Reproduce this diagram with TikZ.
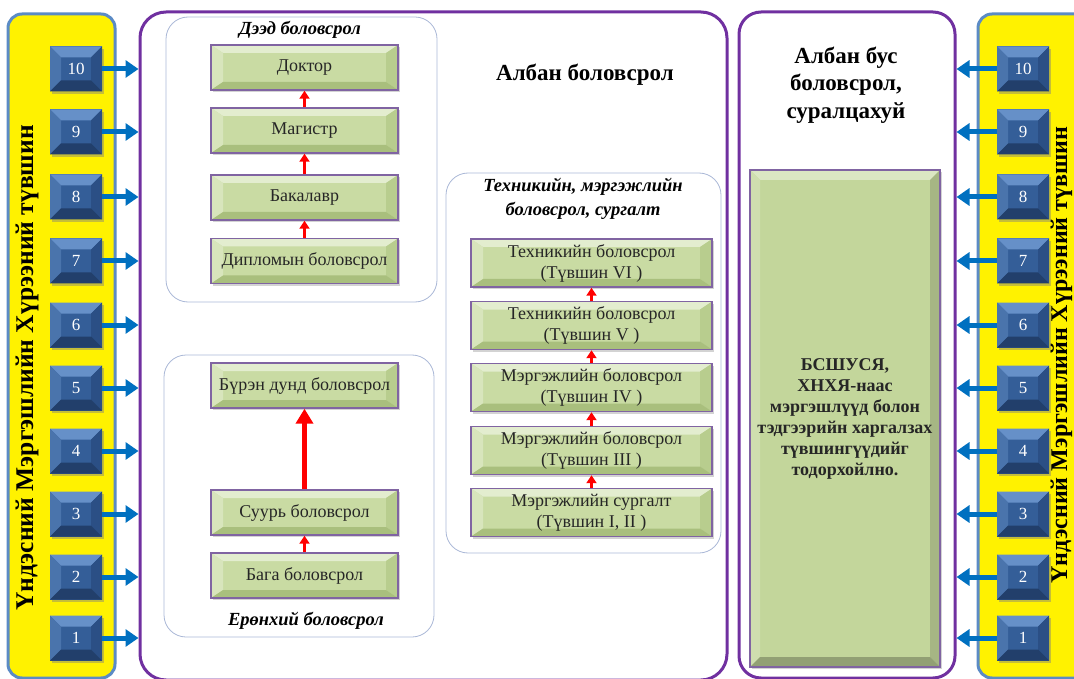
\documentclass[tikz,border=0pt]{standalone}
\usepackage{fontspec}
\setmainfont{Liberation Serif}
\usetikzlibrary{arrows.meta,shadows}
\definecolor{purp}{HTML}{7030A0}
\definecolor{boxpurp}{HTML}{8064A2}
\definecolor{panelblue}{HTML}{5B8BC5}
\definecolor{arrblue}{HTML}{0070C0}
\definecolor{subbord}{HTML}{A9B7D6}
\definecolor{gface}{HTML}{C9DBA3}
\definecolor{gtop}{HTML}{E3EDCF}
\definecolor{gleft}{HTML}{D8E5BC}
\definecolor{gright}{HTML}{B8CD8E}
\definecolor{gbot}{HTML}{A9BF7D}
\definecolor{bigface}{HTML}{C3D69B}
\definecolor{bface}{HTML}{345E98}
\definecolor{btop}{HTML}{6690C8}
\definecolor{bleft}{HTML}{4A74AC}
\definecolor{bright}{HTML}{2B4F85}
\definecolor{bbot}{HTML}{223F6B}
\newcommand\bevelfacets[6]{%
 \fill[#1] (path picture bounding box.north west) -- (path picture bounding box.north east) -- ([xshift=-#5,yshift=-#6]path picture bounding box.north east) -- ([xshift=#5,yshift=-#6]path picture bounding box.north west) -- cycle;
 \fill[#2] (path picture bounding box.north west) -- (path picture bounding box.south west) -- ([xshift=#5,yshift=#6]path picture bounding box.south west) -- ([xshift=#5,yshift=-#6]path picture bounding box.north west) -- cycle;
 \fill[#3] (path picture bounding box.north east) -- (path picture bounding box.south east) -- ([xshift=-#5,yshift=#6]path picture bounding box.south east) -- ([xshift=-#5,yshift=-#6]path picture bounding box.north east) -- cycle;
 \fill[#4] (path picture bounding box.south west) -- (path picture bounding box.south east) -- ([xshift=-#5,yshift=#6]path picture bounding box.south east) -- ([xshift=#5,yshift=#6]path picture bounding box.south west) -- cycle;
}
\tikzset{
  panel/.style={draw=panelblue, line width=3pt, fill=yellow, rounded corners=14pt},
  purpbox/.style={draw=purp, line width=3pt, rounded corners=26pt},
  subbox/.style={draw=subbord, line width=0.8pt, rounded corners=22pt},
  gbox/.style={draw=boxpurp, line width=1.4pt, fill=gface, align=center,
     font=\fontsize{18}{21}\selectfont, text=black!85,
     drop shadow={opacity=0.35, shadow xshift=2pt, shadow yshift=-2pt},
     path picture={\bevelfacets{gtop}{gleft}{gright}{gbot}{12pt}{8pt}}},
  bsq/.style={fill=bface, minimum width=52pt, minimum height=45pt, inner sep=0pt,
     text=white, font=\fontsize{17}{17}\selectfont,
     drop shadow={opacity=0.45, shadow xshift=2pt, shadow yshift=-2.5pt},
     path picture={\bevelfacets{btop}{bleft}{bright}{bbot}{11pt}{11pt}}},
  barrow/.style={draw=arrblue, line width=5pt, -{Triangle[length=13pt,width=17pt]}},
  rarrow/.style={draw=red, line width=3pt, -{Triangle[length=8pt,width=10pt]}},
  bigrarrow/.style={draw=red, line width=5.5pt, -{Triangle[length=15pt,width=17pt]}},
  ttl/.style={font=\bfseries\itshape\fontsize{18.5}{24}\selectfont, align=center},
  head/.style={font=\bfseries\fontsize{23}{27.5}\selectfont, align=center},
  vtext/.style={rotate=90, font=\bfseries\fontsize{25.5}{27}\selectfont},
}
\begin{document}
\begin{tikzpicture}[x=1pt, y=-1pt]
\useasboundingbox (0,0) rectangle (1074,679);
% panels
\node[panel, minimum width=107pt, minimum height=664pt] (lpanel) at (61.5,346) {};
\node[panel, minimum width=117pt, minimum height=664pt] (rpanel) at (1036.5,346) {};
\node[purpbox, minimum width=587pt, minimum height=668pt] (main) at (433.5,346) {};
\node[purpbox, minimum width=216pt, minimum height=666pt, rounded corners=22pt] (nonf) at (847,345) {};
% vertical texts
\node[vtext] (ltext) at (27,368) {Үндэсний Мэргэшлийн Хүрээний түвшин};
\node[vtext, font=\bfseries\fontsize{24}{26}\selectfont] (rtext) at (1061.5,355) {Үндэсний Мэргэшлийн Хүрээний түвшин};
% squares
\foreach \n/\y in {10/69,9/132,8/197,7/261,6/325,5/388,4/451,3/514,2/577,1/638}{
  \node[bsq] (L\n) at (76,\y) {\n};
  \node[bsq] (R\n) at (1023,\y) {\n};
  \draw[barrow] (L\n.east) -- (L\n.east -| main.west);
  \draw[barrow] (R\n.west) -- (R\n.west -| nonf.east);
}
% sub boxes
\node[subbox, minimum width=271pt, minimum height=285pt] (higher) at (301.5,159.5) {};
\node[subbox, minimum width=275pt, minimum height=380pt] (tech) at (583.5,363) {};
\node[subbox, minimum width=270pt, minimum height=282pt] (general) at (299,496) {};
% titles
\node[ttl] (higherT) at (300,30) {Дээд боловсрол};
\node[ttl] (techT) at (583,199) {Техникийн, мэргэжлийн\\боловсрол, сургалт};
\node[ttl] (generalT) at (306,621) {Ерөнхий боловсрол};
\node[head] (formal) at (585,75) {Албан боловсрол};
\node[head] (nonfT) at (846,85) {Албан бус\\боловсрол,\\суралцахуй};
% higher education
\foreach \nm/\y/\t in {doc/67.5/Доктор, mag/130.5/Магистр, bak/197.5/Бакалавр, dip/261/Дипломын боловсрол}{
  \node[gbox, minimum width=187pt, minimum height=45pt] (\nm) at (304.5,\y) {\t};
}
\draw[rarrow] (mag.north) -- (doc.south);
\draw[rarrow] (bak.north) -- (mag.south);
\draw[rarrow] (dip.north) -- (bak.south);
% technical
\foreach \nm/\y/\t in {t6/263/{Техникийн боловсрол\\(Түвшин VI )}, t5/325.5/{Техникийн боловсрол\\(Түвшин V )}, t4/387.5/{Мэргэжлийн боловсрол\\(Түвшин IV )}, t3/450.5/{Мэргэжлийн боловсрол\\(Түвшин III )}, t1/512.5/{Мэргэжлийн сургалт\\(Түвшин I, II )}}{
  \node[gbox, minimum width=241pt, minimum height=48pt, inner sep=1pt] (\nm) at (591.5,\y) {\t};
}
\draw[rarrow] (t5.north) -- (t6.south);
\draw[rarrow] (t4.north) -- (t5.south);
\draw[rarrow] (t3.north) -- (t4.south);
\draw[rarrow] (t1.north) -- (t3.south);
% general
\node[gbox, minimum width=187pt, minimum height=45pt] (full) at (304.5,385.5) {Бүрэн дунд боловсрол};
\node[gbox, minimum width=187pt, minimum height=45pt] (basic) at (304.5,512.5) {Суурь боловсрол};
\node[gbox, minimum width=187pt, minimum height=45pt] (prim) at (304.5,575.5) {Бага боловсрол};
\draw[bigrarrow] (basic.north) -- (full.south);
\draw[rarrow] (prim.north) -- (basic.south);
% non-formal box
\node[gbox, minimum width=190pt, minimum height=497pt, fill=bigface, font=\bfseries\fontsize{18}{21}\selectfont,
   path picture={\bevelfacets{bigface!60!white}{bigface!80!white}{bigface!85!black}{bigface!75!black}{10pt}{10pt}}] (nfbox) at (845,418.5)
   {БСШУСЯ,\\ХНХЯ-наас\\мэргэшлүүд болон\\тэдгээрийн харгалзах\\түвшингүүдийг\\тодорхойлно.};
\end{tikzpicture}
\end{document}
